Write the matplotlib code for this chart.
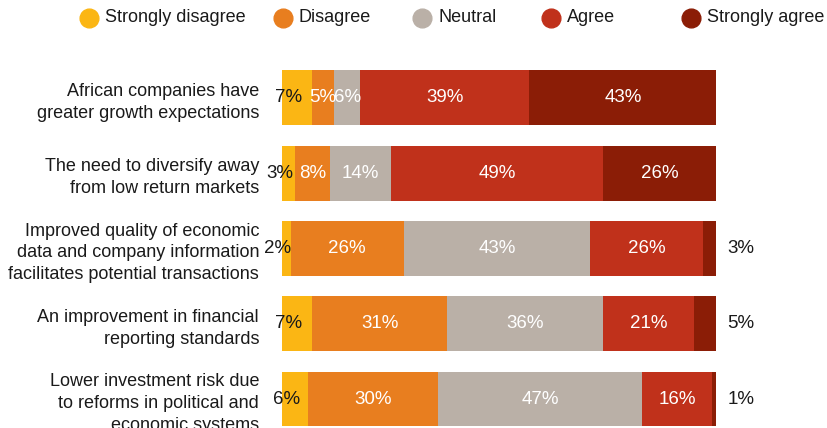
import numpy as np
import matplotlib
matplotlib.use("Agg")
import matplotlib.pyplot as plt

plt.rcParams['font.family'] = ['Liberation Sans', 'DejaVu Sans']

categories = [
    "African companies have\ngreater growth expectations",
    "The need to diversify away\nfrom low return markets",
    "Improved quality of economic\ndata and company information\nfacilitates potential transactions",
    "An improvement in financial\nreporting standards",
    "Lower investment risk due\nto reforms in political and\neconomic systems",
]
series = ["Strongly disagree", "Disagree", "Neutral", "Agree", "Strongly agree"]
strongly_disagree = [7, 3, 2, 7, 6]
disagree = [5, 8, 26, 31, 30]
neutral = [6, 14, 43, 36, 47]
agree = [39, 49, 26, 21, 16]
strongly_agree = [43, 26, 3, 5, 1]
colors = ["#FBB614", "#E87E1F", "#BAB0A7", "#C0311B", "#8B1D06"]

values = np.array([strongly_disagree, disagree, neutral, agree, strongly_agree])

fig = plt.figure(figsize=(8.27, 4.28), dpi=100)
ax = fig.add_axes([0.341, 0.0, 0.525, 0.86])

y = np.arange(len(categories))
left = np.zeros(len(categories))
for i, (name, col) in enumerate(zip(series, colors)):
    vals = values[i]
    ax.barh(y, vals, left=left, height=0.73, color=col, label=name)
    for j, v in enumerate(vals):
        cx = left[j] + v / 2
        if i == 0:
            ax.annotate(f"{v}%", (cx, y[j]), xytext=(-6, 0), textcoords="offset points",
                        ha="center", va="center", fontsize=13.5, color="#1a1a1a")
        elif i == 4 and v < 10:
            ax.annotate(f"{v}%", (left[j] + v, y[j]), xytext=(8, 0), textcoords="offset points",
                        ha="left", va="center", fontsize=13.5, color="#1a1a1a")
        else:
            ax.text(cx, y[j], f"{v}%", ha="center", va="center", fontsize=13.5, color="white")
    left += vals

ax.set_xlim(0, 100)
ax.set_ylim(4.385, -0.505)
ax.set_yticks(y)
ax.set_yticklabels(categories, fontsize=13, color="#1a1a1a", linespacing=1.38)
ax.tick_params(axis="y", length=0, pad=16.5)
ax.set_xticks([])
for s in ax.spines.values():
    s.set_visible(False)

# legend row drawn by hand (item spacing in the original is uneven)
leg_x = [89, 283, 422, 551, 691]
lax = fig.add_axes([0, 0.9, 1, 0.1])
lax.set_xlim(0, 827)
lax.set_ylim(0, 1)
lax.axis("off")
for x, name, col in zip(leg_x, series, colors):
    lax.plot(x, 0.58, marker="o", markersize=13.5, color=col, linestyle="")
    lax.text(x + 16, 0.58, name, ha="left", va="center", fontsize=13, color="#1a1a1a")

fig.savefig("out.png", dpi=100)
